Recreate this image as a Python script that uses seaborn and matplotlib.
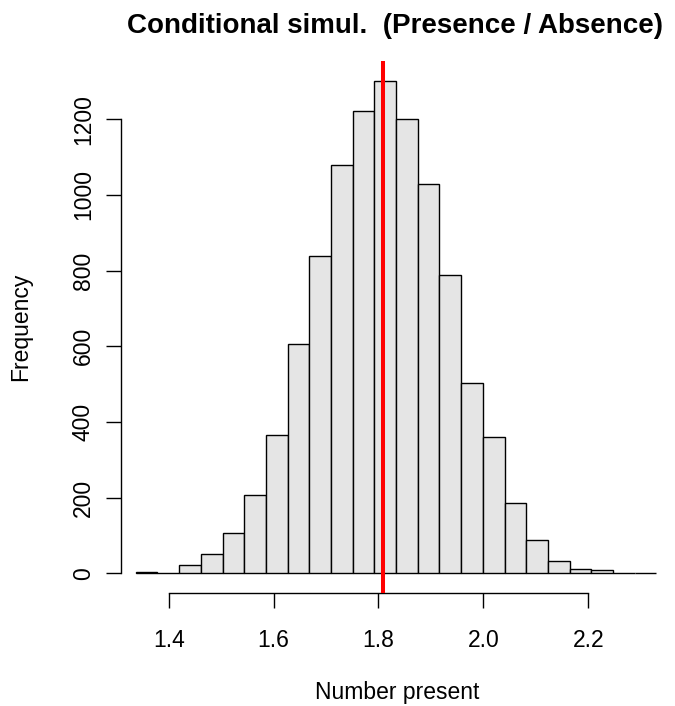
import matplotlib
matplotlib.use("Agg")
import matplotlib.pyplot as plt
import seaborn as sns
import numpy as np

# ---- data ----
bin_edges = [1.337, 1.378, 1.420, 1.461, 1.503, 1.544, 1.585, 1.627, 1.668,
             1.710, 1.751, 1.792, 1.834, 1.875, 1.916, 1.958, 1.999, 2.041,
             2.082, 2.123, 2.165, 2.206, 2.248, 2.289, 2.330]
counts = [3, 1, 23, 51, 106, 206, 366, 605, 839, 1078, 1221, 1300, 1202,
          1030, 788, 504, 359, 187, 89, 33, 11, 8, 2, 1]
observed = 1.809
x_ticks = [1.4, 1.6, 1.8, 2.0, 2.2]
y_ticks = [0, 200, 400, 600, 800, 1000, 1200]
title = "Conditional simul.  (Presence / Absence)"
xlabel = "Number present"
ylabel = "Frequency"

sns.set_theme(style="white")
plt.rcParams["font.family"] = ["Liberation Sans", "DejaVu Sans"]
plt.rcParams["text.color"] = "black"
plt.rcParams["axes.labelcolor"] = "black"
plt.rcParams["xtick.color"] = "black"
plt.rcParams["ytick.color"] = "black"

W, H = 675, 706
fig = plt.figure(figsize=(W / 100, H / 100), dpi=100)
L, R, T, B = 121, 669, 61, 593.3
ax = fig.add_axes([L / W, 1 - B / H, (R - L) / W, (B - T) / H])

centers = [(a + b) / 2 for a, b in zip(bin_edges[:-1], bin_edges[1:])]
sns.histplot(x=centers, weights=counts, bins=bin_edges, color="#e5e5e5",
             edgecolor="black", linewidth=1.0, alpha=1, ax=ax)
ax.axvline(observed, color="red", lw=2.9, zorder=5)

ax.set_xlim(1.309, 2.354)
ax.set_ylim(-52.9, 1354)
ax.set_xlabel("")
ax.set_ylabel("")

for s in ["top", "right"]:
    ax.spines[s].set_visible(False)
for s in ["left", "bottom"]:
    ax.spines[s].set_color("black")
    ax.spines[s].set_linewidth(1.0)
ax.spines["bottom"].set_bounds(1.4, 2.2)
ax.spines["left"].set_bounds(0, 1200)

ax.set_xticks(x_ticks)
ax.set_xticklabels([f"{v:.1f}" for v in x_ticks])
ax.set_yticks(y_ticks)
ax.set_yticklabels([str(v) for v in y_ticks], rotation=90, va="center")
ax.tick_params(axis="both", direction="out", length=10.8, width=1.0,
               color="black", labelsize=16.5, labelcolor="black",
               bottom=True, left=True)
ax.tick_params(axis="x", pad=15)
ax.tick_params(axis="y", pad=8)
ax.grid(False)

fig.text(395 / W, 1 - 26 / H, title, ha="center", va="center",
         fontsize=20, fontweight="bold", color="black")
fig.text(397 / W, 1 - 692 / H, xlabel, ha="center", va="center",
         fontsize=16.5, color="black")
fig.text(21 / W, 1 - 327 / H, ylabel, ha="center", va="center", rotation=90,
         fontsize=16.5, color="black")

fig.savefig("out.png", dpi=100, facecolor="white")
